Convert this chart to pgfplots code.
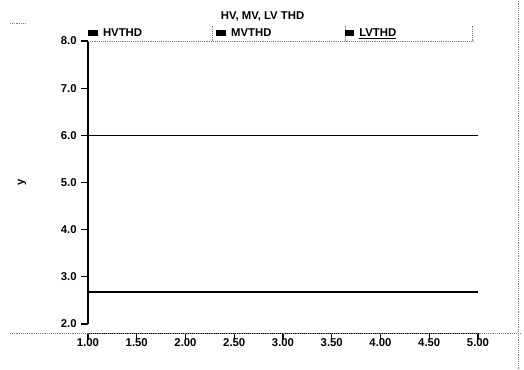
\documentclass[border=0pt]{standalone}
\usepackage{fontspec}
\setmainfont{Liberation Sans}
\usepackage{pgfplots}
\pgfplotsset{compat=1.18}
\begin{document}
\begin{tikzpicture}
\def\fs{\fontsize{8.5}{10}\selectfont\bfseries}
\path[use as bounding box] (0,0) rectangle (393pt,276.75pt);
\begin{axis}[
  at={(66pt,33.75pt)}, anchor=south west,
  scale only axis, width=292.5pt, height=212.25pt,
  xmin=1, xmax=5, ymin=2, ymax=8,
  axis x line*=bottom, axis y line*=left,
  axis x line shift=7pt,
  axis line style={black, line width=1.2pt, -},
  xtick={1,1.5,2,2.5,3,3.5,4,4.5,5},
  ytick={2,3,4,5,6,7,8},
  tick align=outside, major tick length=5pt,
  tick style={black, line width=0.8pt},
  xticklabel style={yshift=4.5pt, /pgf/number format/.cd, fixed, fixed zerofill, precision=2},
  yticklabel style={/pgf/number format/.cd, fixed, fixed zerofill, precision=1},
  /pgf/number format/assume math mode=true,
  tick label style={font=\fs},
  ylabel={y},
  ylabel style={at={(axis description cs:-0.169,0.5)}, anchor=center, font=\fs},
  legend columns=3,
  legend style={at={(0,1)}, anchor=south west, draw=none, fill=none,
    font=\fs, yshift=0pt, inner sep=0pt,
    /tikz/every odd column/.append style={column sep=2pt}},
  legend image code/.code={\fill[black] (0pt,-1.8pt) rectangle (6pt,1.8pt);},
  clip=false,
]
\addplot[black, line width=1.1pt] coordinates {(1,6.0) (5,6.0)};
\addlegendentry{\makebox[83pt][l]{HVTHD}}
\addplot[black, line width=1.1pt] coordinates {(1,2.68) (5,2.68)};
\addlegendentry{\makebox[83pt][l]{MVTHD}}
\addplot[black, line width=1.1pt] coordinates {(1,2.68) (5,2.68)};
\addlegendentry{\makebox[83pt][l]{\underline{LVTHD}}}
\draw[densely dotted, gray, line width=0.4pt] (rel axis cs:0,1) -- (rel axis cs:0.99,1);
\draw[densely dotted, gray, line width=0.4pt] (rel axis cs:0.318,1) -- ([yshift=12pt]rel axis cs:0.318,1);
\draw[densely dotted, gray, line width=0.4pt] (rel axis cs:0.659,1) -- ([yshift=12pt]rel axis cs:0.659,1);
\draw[densely dotted, gray, line width=0.4pt] (rel axis cs:0.985,1) -- ([yshift=12pt]rel axis cs:0.985,1);
\end{axis}
\node[font=\fs] at (196.9pt,264.75pt) {HV, MV, LV THD};
\draw[densely dotted, gray, line width=0.4pt] (7.5pt,27pt) -- (390pt,27pt);
\draw[densely dotted, gray, line width=0.4pt] (388.5pt,0pt) -- (388.5pt,276.75pt);
\draw[densely dotted, gray, line width=0.4pt] (7.5pt,259.5pt) -- (19pt,259.5pt);
\end{tikzpicture}
\end{document}
